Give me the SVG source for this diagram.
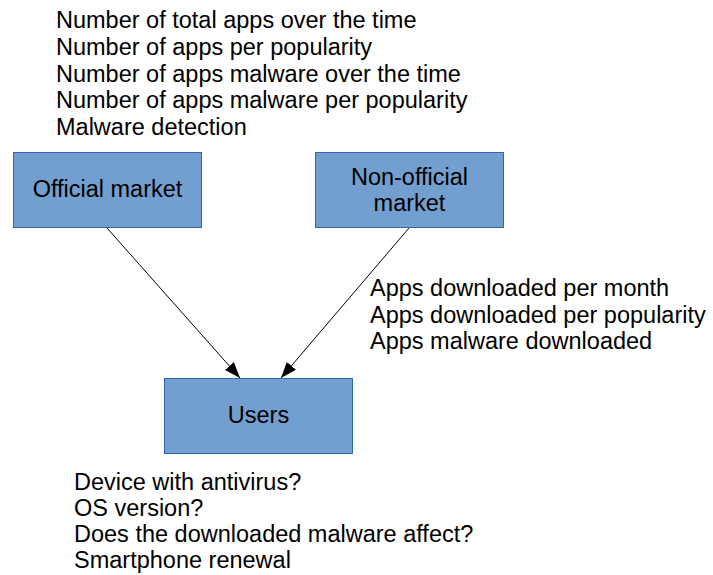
<svg xmlns="http://www.w3.org/2000/svg" width="713" height="575" viewBox="0 0 713 575">
<defs>
<style>
text{font-family:"Liberation Sans",Arial,sans-serif;font-size:23.5px;fill:#000}
.box{fill:#729fcf;stroke:#3465a4;stroke-width:1}
.c{text-anchor:middle}
.edge{stroke:#000;stroke-width:1;fill:none;marker-end:url(#ah)}
</style>
<marker id="ah" viewBox="0 0 16 12" refX="16" refY="6" markerWidth="16" markerHeight="12" markerUnits="userSpaceOnUse" orient="auto">
<path d="M0,0 L16,6 L0,12 z" fill="#000"/>
</marker>
</defs>
<g id="top-label">
<text x="56" y="28">Number of total apps over the time</text>
<text x="56" y="55">Number of apps per popularity</text>
<text x="56" y="82">Number of apps malware over the time</text>
<text x="56" y="108">Number of apps malware per popularity</text>
<text x="56" y="135">Malware detection</text>
</g>
<g id="official">
<rect class="box" x="13.5" y="152.5" width="188" height="75"/>
<text class="c" x="107.5" y="197">Official market</text>
</g>
<g id="nonofficial">
<rect class="box" x="315.5" y="152.5" width="188" height="75"/>
<text class="c" x="409.5" y="185">Non-official</text>
<text class="c" x="409.5" y="211">market</text>
</g>
<g id="users">
<rect class="box" x="164.5" y="378.5" width="188" height="75"/>
<text class="c" x="258.5" y="423">Users</text>
</g>
<g id="connectors">
<path class="edge" d="M107,228 L240,378"/>
<path class="edge" d="M409,228 L281,378"/>
</g>
<g id="right-label">
<text x="370" y="296">Apps downloaded per month</text>
<text x="370" y="323">Apps downloaded per popularity</text>
<text x="370" y="349">Apps malware downloaded</text>
</g>
<g id="bottom-label">
<text x="74" y="490">Device with antivirus?</text>
<text x="74" y="516">OS version?</text>
<text x="74" y="542">Does the downloaded malware affect?</text>
<text x="74" y="568">Smartphone renewal</text>
</g>
</svg>
